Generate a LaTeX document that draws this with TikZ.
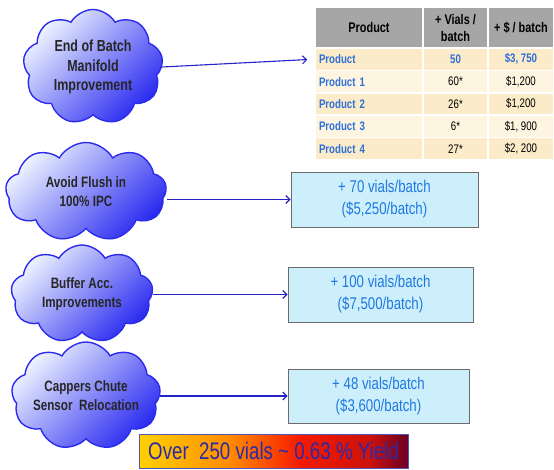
\documentclass[tikz,border=0pt]{standalone}
\usepackage{fontspec}
\setmainfont{Liberation Sans}
\newfontfamily\nar[FakeStretch=0.78]{Liberation Sans}
\usetikzlibrary{shapes.symbols,arrows.meta}
\definecolor{cloudblue}{HTML}{2B2BF0}
\definecolor{cloudlight}{HTML}{EEF4FF}
\definecolor{linkblue}{HTML}{2424C8}
\definecolor{boxfill}{HTML}{CDEFFC}
\definecolor{boxtext}{HTML}{1E78E0}
\definecolor{hdrgray}{HTML}{A6A6A6}
\definecolor{rowdark}{HTML}{FBEBC8}
\definecolor{rowlight}{HTML}{FDF5E0}
\definecolor{prodblue}{HTML}{2E6FD8}
\definecolor{yieldtext}{HTML}{2A2AA8}
\definecolor{gy}{HTML}{FFD200}
\definecolor{go}{HTML}{FF8A00}
\definecolor{gr}{HTML}{F51A00}
\definecolor{gm}{HTML}{6A0024}
\pgfdeclarehorizontalshading{yieldgrad}{100bp}{color(0bp)=(gy); color(25bp)=(gy); color(42bp)=(go); color(55bp)=(gr); color(68bp)=(gr!70!gm); color(75bp)=(gm); color(100bp)=(gm)}
\tikzset{
  cloudnode/.style={cloud, cloud puffs=9, cloud puff arc=120, cloud ignores aspect,
    draw=cloudblue, line width=1.4pt, left color=cloudlight, right color=cloudblue,
    shading angle=45, align=center, font=\nar\bfseries\fontsize{15}{19}\selectfont,
    text=black!85, inner sep=0pt},
  boxnode/.style={draw=gray!85!black, line width=0.9pt, fill=boxfill, text=boxtext,
    font=\nar\fontsize{17}{22}\selectfont, align=center, inner sep=0pt},
  link/.style={draw=linkblue, line width=1.1pt, -{Straight Barb[length=4pt,width=8pt]}},
  cell/.style={draw=white, line width=1.5pt, inner sep=0pt, align=center,
    minimum height=22.4pt},
  hdr/.style={cell, fill=hdrgray, minimum height=41pt, font=\nar\bfseries\fontsize{14}{17}\selectfont},
  namecell/.style={cell, text width=100pt, inner xsep=4pt, align=left,
    text=prodblue, font=\nar\bfseries\fontsize{12.4}{13}\selectfont},
  numcell/.style={cell, font=\nar\fontsize{12.4}{13}\selectfont}
}
\begin{document}
\begin{tikzpicture}[x=1pt,y=-1pt]
\useasboundingbox (0,0) rectangle (554,470);
% clouds
\node[cloudnode, minimum width=140pt, minimum height=115pt, font=\nar\bfseries\fontsize{16}{19.5}\selectfont] (c1) at (93,67) {End of Batch\\Manifold\\Improvement};
\node[cloudnode, minimum width=161pt, minimum height=99pt] (c2) at (86,192) {Avoid Flush in\\100\% IPC};
\node[cloudnode, minimum width=142pt, minimum height=98pt] (c3) at (82,294) {Buffer Acc.\\Improvements};
\node[cloudnode, minimum width=141pt, minimum height=108pt] (c4) at (86,396) {Cappers Chute\\Sensor\ \ Relocation};
% table
\node[hdr, minimum width=108pt] (h1) at (369,27.5) {Product};
\node[hdr, minimum width=65pt] (h2) at (455.5,27.5) {+ Vials /\\batch};
\node[hdr, minimum width=66pt] (h3) at (521,27.5) {+ \$ / batch};
\node[namecell, fill=rowdark] (r1c1) at (369,59.2) {Product};
\node[numcell, fill=rowdark, minimum width=65pt, text=prodblue, font=\nar\bfseries\fontsize{12.4}{13}\selectfont] (r1c2) at (455.5,59.2) {50};
\node[numcell, fill=rowdark, minimum width=66pt, text=prodblue, font=\nar\bfseries\fontsize{12.4}{13}\selectfont] (r1c3) at (521,59.2) {\$3, 750};
\node[namecell, fill=rowlight] (r2c1) at (369,81.6) {Product 1};
\node[numcell, fill=rowlight, minimum width=65pt] (r2c2) at (455.5,81.6) {60*};
\node[numcell, fill=rowlight, minimum width=66pt] (r2c3) at (521,81.6) {\$1,200};
\node[namecell, fill=rowdark] (r3c1) at (369,104) {Product 2};
\node[numcell, fill=rowdark, minimum width=65pt] (r3c2) at (455.5,104) {26*};
\node[numcell, fill=rowdark, minimum width=66pt] (r3c3) at (521,104) {\$1,200};
\node[namecell, fill=rowlight] (r4c1) at (369,126.4) {Product 3};
\node[numcell, fill=rowlight, minimum width=65pt] (r4c2) at (455.5,126.4) {6*};
\node[numcell, fill=rowlight, minimum width=66pt] (r4c3) at (521,126.4) {\$1, 900};
\node[namecell, fill=rowdark] (r5c1) at (369,148.8) {Product 4};
\node[numcell, fill=rowdark, minimum width=65pt] (r5c2) at (455.5,148.8) {27*};
\node[numcell, fill=rowdark, minimum width=66pt] (r5c3) at (521,148.8) {\$2, 200};
% result boxes
\node[boxnode, minimum width=187pt, minimum height=55pt] (b2) at (384.5,199.5) {+ 70 vials/batch\\(\$5,250/batch)};
\node[boxnode, minimum width=185pt, minimum height=55pt] (b3) at (380.5,294.5) {+ 100 vials/batch\\(\$7,500/batch)};
\node[boxnode, minimum width=181pt, minimum height=54pt] (b4) at (378.5,396) {+ 48 vials/batch\\(\$3,600/batch)};
% yield banner
\node[shading=yieldgrad, draw=yieldtext!80, line width=0.8pt, minimum width=269pt, minimum height=34pt,
  inner sep=0pt, text=yieldtext, font=\nar\fontsize{24}{26}\selectfont] (y) at (273.5,451) {Over\ \ 250 vials \textasciitilde{} 0.63 \% Yield};
% connectors
\draw[link, shorten >=7pt] (c1.east) -- (r1c1.west);
\draw[link] (c2.east |- b2.west) -- (b2.west);
\draw[link] (c3.east |- b3.west) -- (b3.west);
\draw[link] (c4.east |- b4.west) -- (b4.west);
\end{tikzpicture}
\end{document}
